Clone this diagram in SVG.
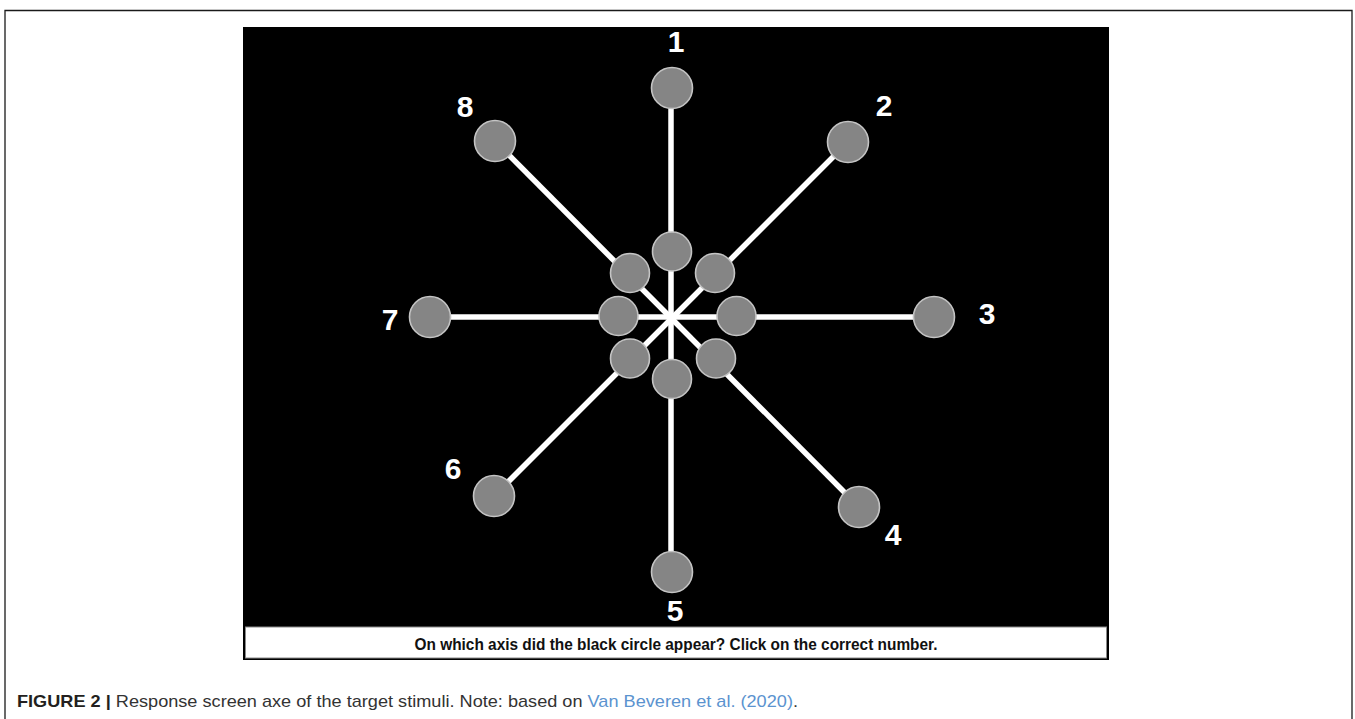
<svg xmlns="http://www.w3.org/2000/svg" width="1355" height="719" viewBox="0 0 1355 719">
<style>
.c{fill:#858585;stroke:#c4c4c4;stroke-width:1.6}
.sp{stroke:#ffffff;stroke-width:5.5;stroke-linecap:butt}
.n{font-family:"Liberation Sans",Arial,sans-serif;font-weight:bold;font-size:30px;fill:#ffffff;text-anchor:middle}
</style>
<rect width="1355" height="719" fill="#ffffff"/>
<path d="M5,719 V10.5 H1352 V719" fill="none" stroke="#1a1a1a" stroke-width="1.3"/>
<g id="screen">
<rect x="243" y="27" width="866" height="633" fill="#000000"/>
<rect x="245.5" y="627" width="861" height="31" fill="#ffffff" stroke="#8a8a8a" stroke-width="1"/>
<text x="676" y="650" font-family="'Liberation Sans',Arial,sans-serif" font-weight="bold" font-size="17" fill="#111" text-anchor="middle" textLength="523" lengthAdjust="spacingAndGlyphs">On which axis did the black circle appear? Click on the correct number.</text>
</g>
<g id="connectors">
<line class="sp" x1="671" y1="88" x2="671" y2="572"/>
<line class="sp" x1="430" y1="317" x2="934" y2="317"/>
<line class="sp" x1="495" y1="141" x2="859" y2="507"/>
<line class="sp" x1="848" y1="142" x2="494" y2="496"/>
</g>
<g id="inner">
<circle class="c" cx="672" cy="251.5" r="19.5"/>
<circle class="c" cx="630" cy="273" r="19.5"/>
<circle class="c" cx="715" cy="273" r="19.5"/>
<circle class="c" cx="618.5" cy="316" r="19.5"/>
<circle class="c" cx="736.5" cy="316" r="19.5"/>
<circle class="c" cx="630" cy="358.5" r="19.5"/>
<circle class="c" cx="716" cy="358.5" r="19.5"/>
<circle class="c" cx="672" cy="379" r="19.5"/>
</g>
<g id="node1"><circle class="c" cx="672" cy="88" r="20.5"/><text class="n" x="676" y="52">1</text></g>
<g id="node2"><circle class="c" cx="848" cy="142" r="20.5"/><text class="n" x="884" y="116">2</text></g>
<g id="node3"><circle class="c" cx="934" cy="317" r="20.5"/><text class="n" x="987" y="324">3</text></g>
<g id="node4"><circle class="c" cx="859" cy="507" r="20.5"/><text class="n" x="893" y="545">4</text></g>
<g id="node5"><circle class="c" cx="672" cy="572" r="20.5"/><text class="n" x="675" y="621">5</text></g>
<g id="node6"><circle class="c" cx="494" cy="496" r="20.5"/><text class="n" x="453" y="479">6</text></g>
<g id="node7"><circle class="c" cx="430" cy="317" r="20.5"/><text class="n" x="390" y="330">7</text></g>
<g id="node8"><circle class="c" cx="495" cy="141" r="20.5"/><text class="n" x="465" y="117">8</text></g>
<text x="17" y="707" font-family="'Liberation Sans',Arial,sans-serif" font-size="17" fill="#333" textLength="781" lengthAdjust="spacingAndGlyphs"><tspan font-weight="bold" fill="#231f20">FIGURE 2 |</tspan> Response screen axe of the target stimuli. Note: based on <tspan fill="#5b93cf">Van Beveren et al. (2020)</tspan>.</text>
</svg>
